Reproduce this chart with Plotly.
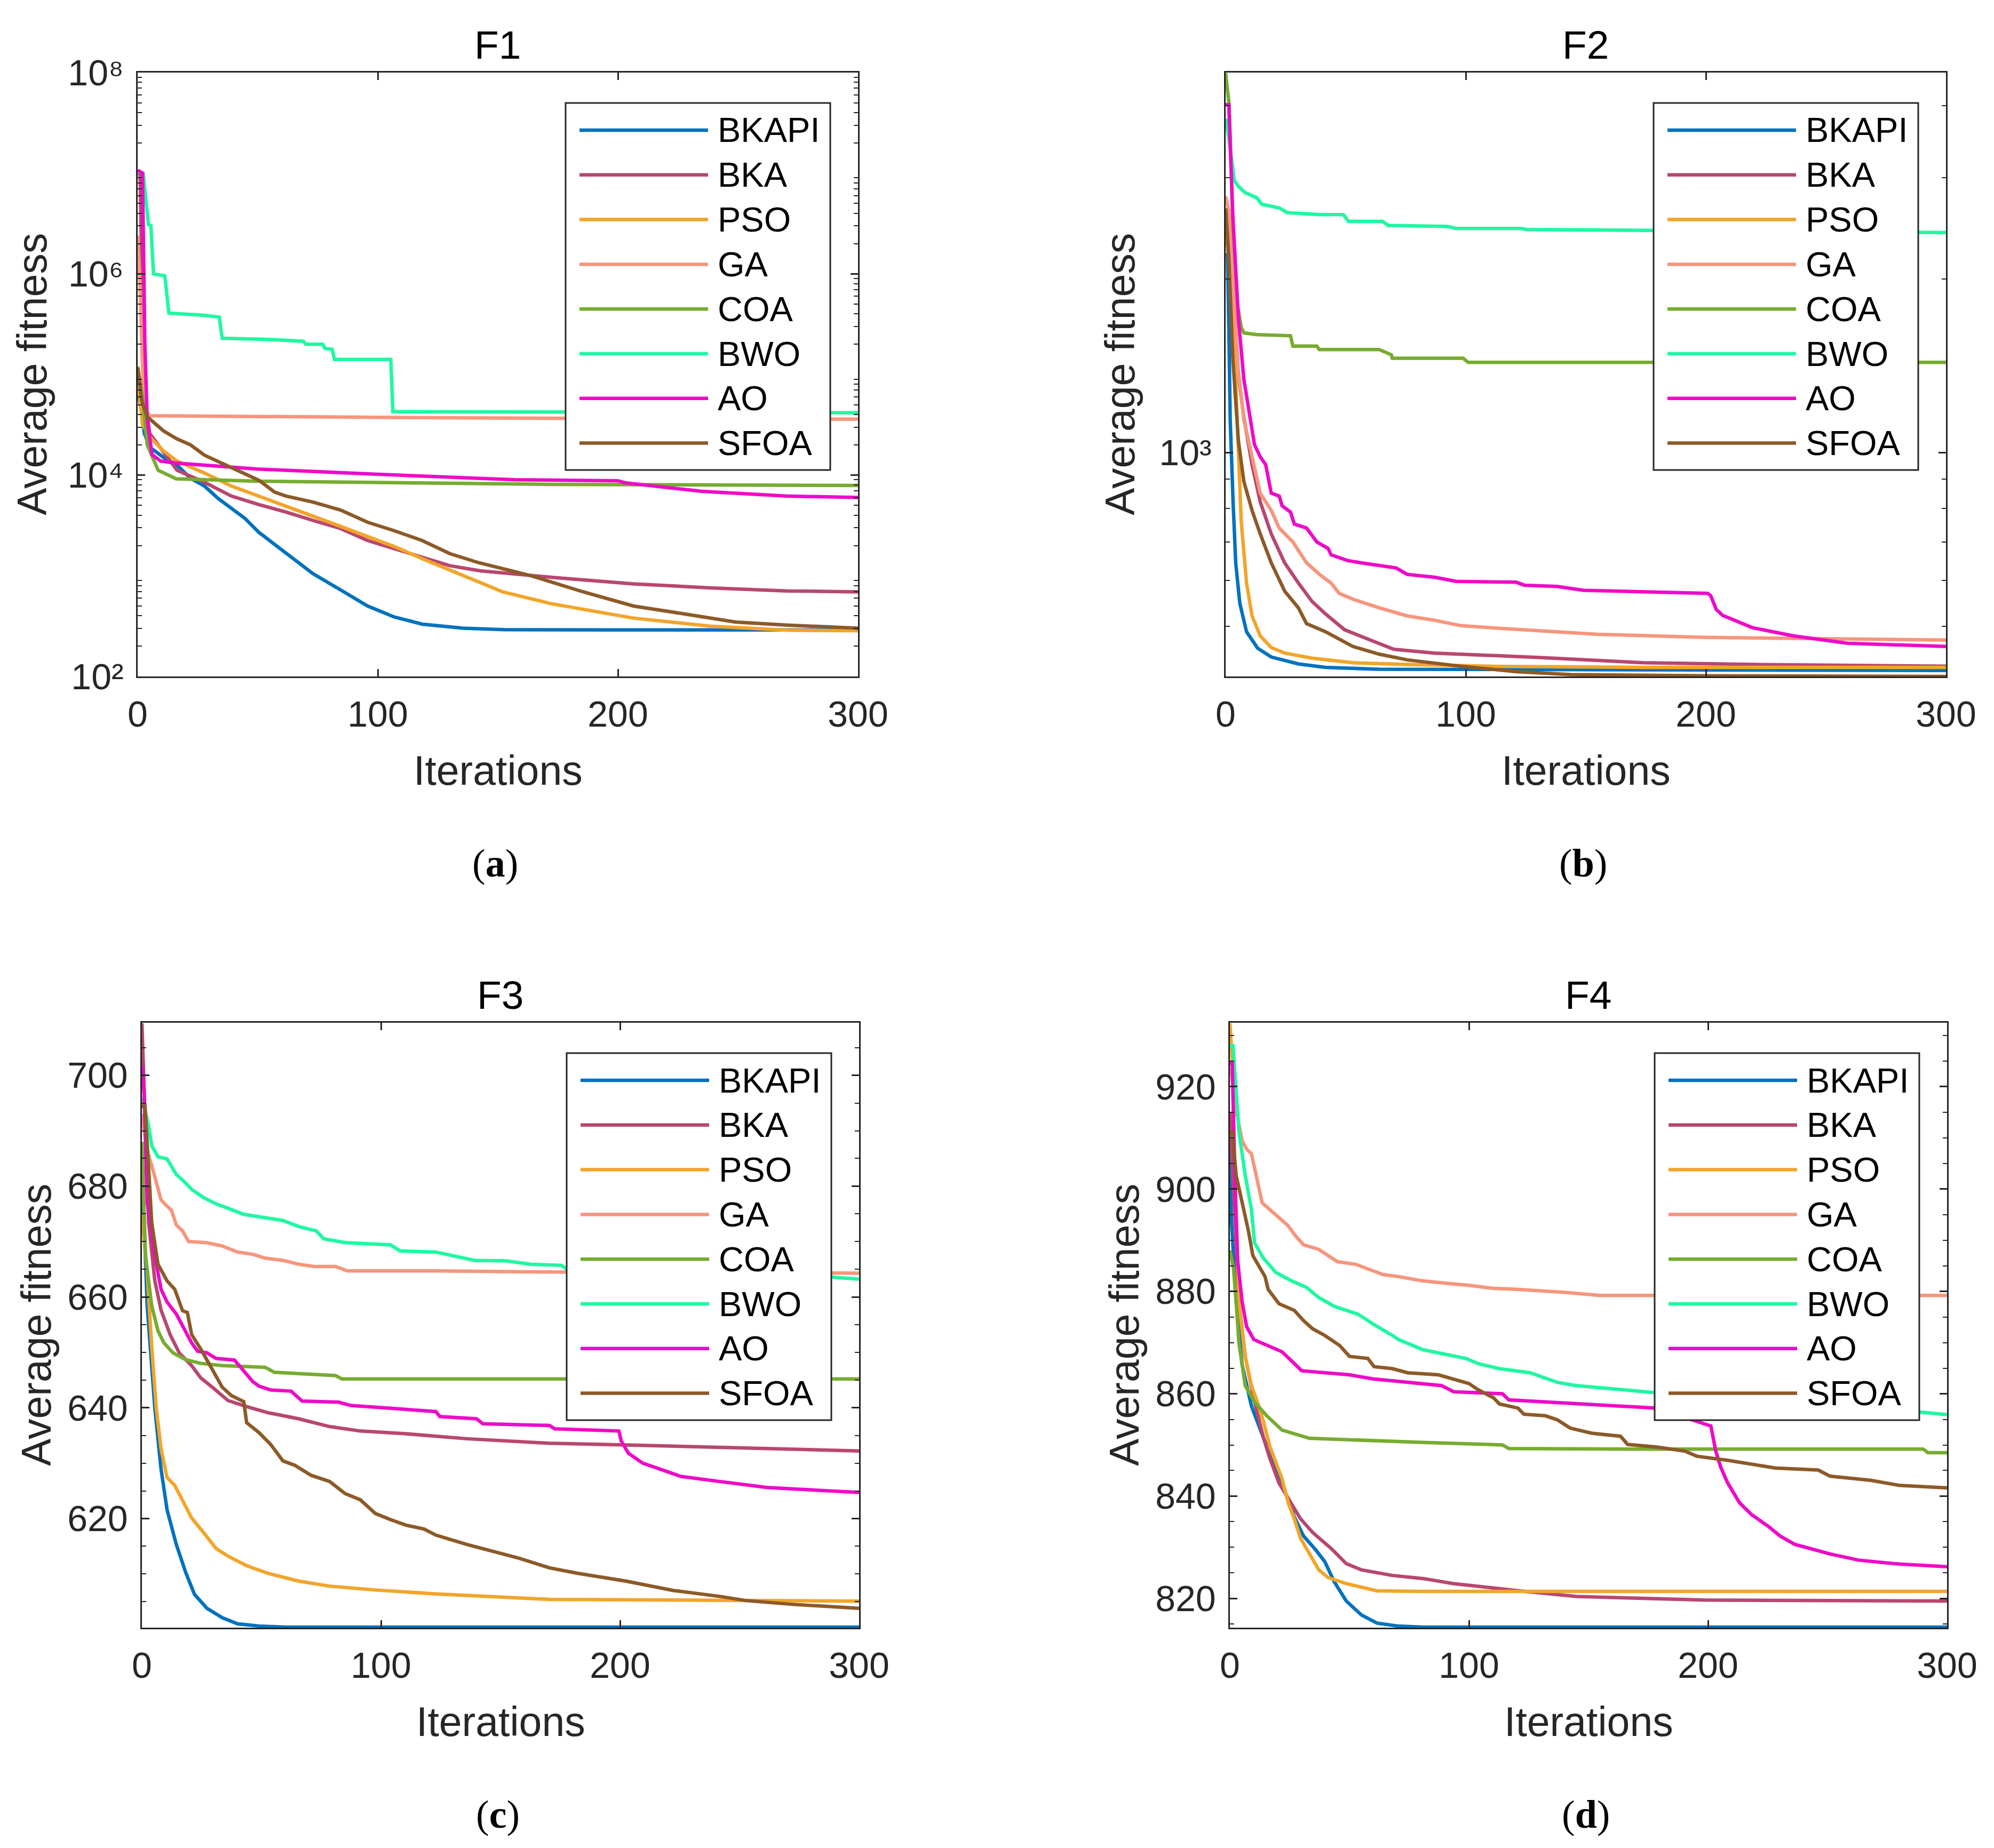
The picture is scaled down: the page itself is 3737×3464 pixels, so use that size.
import plotly.graph_objects as go

W, H = 3737, 3464

names = ["BKAPI", "BKA", "PSO", "GA", "COA", "BWO", "AO", "SFOA"]
colors = ["#0072BD", "#B8476F", "#F2A52A", "#F5967D", "#77AC30", "#1FF8A2", "#EE0AC8", "#8C5A28"]

# ---------------- F1 (log scale) ----------------
F1_BKAPI_x = [0, 1.7, 2.8, 5, 10.8, 16.4, 22, 27.8, 33.4, 39, 44.8, 50.5, 61.8, 73, 84.5, 95.8, 107, 118.5, 135.5, 152.5, 200, 300]
F1_BKAPI_y = [7.1e4, 4.2e4, 2.6e4, 1.9e4, 1.5e4, 1.26e4, 9.3e3, 7.8e3, 5.9e3, 4.7e3, 3.7e3, 2.7e3, 1.66e3, 1.05e3, 724, 501, 389, 331, 302, 292, 290, 290]
F1_BKA_x = [0, 1, 2, 3, 5, 16.4, 27.8, 39, 50.5, 61.8, 73, 84.5, 95.8, 107, 118.5, 130, 142.7, 174.6, 206.5, 238.5, 270.5, 300]
F1_BKA_y = [1.0e7, 1.0e7, 5e5, 6e4, 2.6e4, 1.12e4, 8.5e3, 6.2e3, 5.1e3, 4.3e3, 3.55e3, 2.95e3, 2.24e3, 1.86e3, 1.55e3, 1.26e3, 1.12e3, 955, 832, 759, 708, 692]
F1_PSO_x = [0, 2, 5, 10.8, 16.4, 27.8, 39, 50.5, 61.8, 73, 84.5, 95.8, 107, 118.5, 130, 142, 152, 172, 206.5, 238.5, 270.5, 300]
F1_PSO_y = [1.0e5, 3.2e4, 2.4e4, 1.74e4, 1.38e4, 1.05e4, 7.8e3, 6.2e3, 4.9e3, 3.9e3, 3.1e3, 2.45e3, 1.95e3, 1.48e3, 1.15e3, 871, 692, 530, 380, 316, 288, 285]
F1_GA_x = [0, 1, 2, 3, 5, 50, 100, 200, 300]
F1_GA_y = [2.4e6, 8e5, 1.2e5, 4.5e4, 3.9e4, 3.82e4, 3.75e4, 3.65e4, 3.6e4]
F1_COA_x = [0, 2, 4, 8.5, 16, 50, 171, 300]
F1_COA_y = [1.2e5, 6e4, 2.0e4, 1.12e4, 9.2e3, 8.7e3, 8.1e3, 7.9e3]
F1_BWO_x = [0, 2.3, 4.5, 5.5, 6.6, 11.3, 13, 27, 34, 35.2, 52.7, 69, 70, 77, 78, 81, 82, 105.4, 106.3, 300]
F1_BWO_y = [1.035e7, 1.0e7, 3.09e6, 3.02e6, 1.0e6, 9.55e5, 4.07e5, 3.89e5, 3.72e5, 2.29e5, 2.24e5, 2.14e5, 2.0e5, 2.0e5, 1.82e5, 1.78e5, 1.41e5, 1.41e5, 4.27e4, 4.17e4]
F1_AO_x = [0, 2, 3, 4, 6, 9.6, 16, 50, 100, 142.7, 157, 200, 203, 235, 270, 300]
F1_AO_y = [1.07e7, 1.0e7, 2e5, 3.5e4, 1.6e4, 1.38e4, 1.32e4, 1.15e4, 1.02e4, 9.2e3, 9.0e3, 8.8e3, 8.4e3, 6.9e3, 6.2e3, 6.0e3]
F1_SFOA_x = [0, 1.7, 4, 10.8, 16.4, 22, 27.8, 39, 50.5, 57, 61.8, 73, 84.5, 95.8, 107, 118.5, 130, 142, 164, 185.6, 206.5, 228, 249, 270.5, 300]
F1_SFOA_y = [1.17e5, 5.5e4, 3.8e4, 2.75e4, 2.29e4, 2.0e4, 1.58e4, 1.2e4, 8.9e3, 6.8e3, 6.2e3, 5.4e3, 4.5e3, 3.4e3, 2.8e3, 2.24e3, 1.66e3, 1.35e3, 1.0e3, 692, 501, 417, 347, 324, 302]

# ---------------- F2 (log scale) ----------------
F2_BKAPI_x = [0, 0.8, 1.4, 1.9, 3.1, 4.2, 5.9, 8.7, 13.3, 19, 30.3, 41.6, 64, 300]
F2_BKAPI_y = [2218, 2188, 1578, 1140, 822, 644, 548, 489, 458, 442, 430, 424, 421, 419]
F2_BKA_x = [0, 2, 4, 7.6, 11, 14.4, 19, 24.6, 30.3, 36, 41.6, 49.5, 58.6, 70, 87, 110, 132, 174, 220, 300]
F2_BKA_y = [2500, 2000, 1500, 1150, 953, 822, 723, 644, 594, 552, 525, 493, 476, 456, 449, 445, 441, 432, 429, 426]
F2_PSO_x = [0, 2, 3, 4.8, 6.5, 8.7, 11, 14.4, 19, 24.6, 36, 53, 75.6, 110, 174, 300]
F2_PSO_y = [2500, 2000, 1860, 1140, 759, 594, 521, 481, 459, 449, 440, 432, 429, 426, 424, 424]
F2_GA_x = [0, 1.3, 3, 5.3, 7.6, 10, 12, 14.4, 19, 22.3, 28, 33.7, 39.3, 43.9, 47.3, 53, 64, 75.6, 87, 98, 110, 132, 155, 200, 300]
F2_GA_y = [2786, 2630, 1982, 1384, 1140, 1033, 953, 851, 794, 740, 700, 644, 614, 594, 570, 557, 538, 521, 512, 501, 497, 490, 484, 478, 473]
F2_COA_x = [0, 1.5, 3, 5, 6.5, 7.6, 13, 27, 28, 38, 39, 64, 69, 69.4, 98.9, 101, 300]
F2_COA_y = [4560, 4000, 2500, 1800, 1650, 1614, 1603, 1596, 1531, 1531, 1510, 1510, 1479, 1459, 1459, 1435, 1435]
F2_BWO_x = [0, 1, 2.5, 3.6, 5.3, 8, 13, 15, 22.3, 25.7, 39, 49, 51.2, 65.4, 67.7, 92.6, 96, 123, 125.5, 174, 300]
F2_BWO_y = [3800, 3600, 3230, 2970, 2900, 2830, 2770, 2700, 2660, 2610, 2590, 2590, 2520, 2520, 2480, 2470, 2450, 2450, 2440, 2430, 2410]
F2_AO_x = [0, 1.3, 3, 5.3, 7.6, 9.9, 12, 14.4, 16.7, 19, 22.3, 23.5, 27, 28.6, 33.7, 38, 42.7, 43.9, 50.7, 57.5,
           64, 71, 75.6, 87, 96, 121, 124.4, 138, 149, 200.8, 202, 204.3, 207, 219.4, 236.5, 259, 300]
F2_AO_y = [4018, 4018, 2570, 1710, 1340, 1175, 1033, 984, 953, 851, 841, 809, 789, 752, 740, 700, 682, 665, 650, 643,
           637, 631, 615, 608, 598, 596, 589, 586, 577, 570, 565, 535, 522, 497, 481, 467, 461]
F2_SFOA_x = [0, 1.3, 3, 5.3, 7.6, 11, 14.4, 19, 24.6, 30.3, 33.7, 41.6, 53, 64, 75.6, 98, 121, 143.7, 200, 300]
F2_SFOA_y = [2655, 2188, 1455, 1050, 891, 794, 723, 644, 575, 538, 505, 489, 461, 447, 437, 426, 417, 412, 410, 409]

# ---------------- F3 ----------------
F3_BKAPI_x = [0, 0.9, 2.2, 4.1, 5.4, 8, 10.5, 14.4, 18.2, 22, 27.2, 33.6, 40, 49, 60, 300]
F3_BKAPI_y = [680.2, 673.4, 658.4, 647.3, 639.9, 628.9, 621.6, 615.3, 610.4, 606.3, 603.8, 602.1, 601.0, 600.6, 600.4, 600.4]
F3_BKA_x = [0, 0.9, 2.8, 5.4, 8, 11.8, 15.6, 20.8, 24.6, 29.7, 36, 43.8, 52.8, 65.6, 72, 78.5, 91.3, 110.5, 136, 170, 200, 300]
F3_BKA_y = [709.4, 696.8, 673.4, 662.9, 657.6, 653.2, 649.9, 647.6, 645.4, 643.6, 641.3, 640.2, 639.1, 638.0, 637.3, 636.6, 635.8, 635.3, 634.4, 633.6, 633.3, 632.2]
F3_PSO_x = [0, 2.2, 4.1, 6, 8, 10.5, 13.7, 17, 20.8, 25.9, 31, 36, 43.8, 52.8, 65.6, 78.5, 97.7, 123, 149, 170.5, 300]
F3_PSO_y = [675, 664.4, 651.0, 639.9, 632.6, 627.4, 626.0, 623.1, 620.1, 617.4, 614.6, 613.2, 611.5, 610.1, 608.7, 607.8, 607.1, 606.4, 605.9, 605.4, 605.1]
F3_GA_x = [0, 2.2, 5.4, 8, 10.5, 12.4, 14.4, 17, 19.5, 27, 33.6, 40, 46.4, 51.5, 59, 65.6, 72, 81, 86, 123, 170.5, 300]
F3_GA_y = [693, 686.5, 681.7, 677.5, 676.4, 675.6, 673.0, 671.9, 670.0, 669.8, 669.2, 668.1, 667.7, 667.0, 666.6, 665.9, 665.5, 665.5, 664.7, 664.7, 664.5, 664.3]
F3_COA_x = [0, 1.5, 4.1, 6.7, 9.2, 13, 18.2, 24.6, 33.6, 51.5, 55.4, 81, 83.6, 300]
F3_COA_y = [688, 667.4, 658.4, 653.9, 651.7, 649.9, 648.7, 648.0, 647.6, 647.3, 646.4, 645.8, 645.2, 645.2]
F3_BWO_x = [0, 2.6, 4.1, 6.7, 10.5, 14.4, 18.2, 20.8, 25.9, 31, 36, 42.6, 50, 59, 65.6, 73, 76, 85, 104, 108, 123, 139, 152.5, 162.5, 175.5, 177.5, 288, 300]
F3_BWO_y = [696, 691.3, 687.3, 685.3, 684.9, 682.1, 680.6, 679.4, 677.9, 676.8, 676.0, 674.9, 674.4, 673.8, 672.7, 671.9, 670.5, 669.8, 669.4, 668.3, 668.1, 666.6, 666.5, 665.9, 665.7, 665.1, 663.6, 663.2]
F3_AO_x = [0, 0.9, 2.2, 5.4, 8, 10.5, 14.4, 18.2, 20.8, 23.3, 27.2, 31, 38.7, 41.3, 46.4, 49, 54, 62.4, 67, 82.3,
           87.4, 97.7, 110.5, 123, 124.6, 140, 142.6, 170.5, 172.7, 199.5, 200.5, 203.5, 209.5, 216.5, 225.5, 241.5, 261.5, 300]
F3_AO_y = [701.7, 696.8, 677.1, 667.4, 661.4, 659.1, 656.9, 653.9, 651.7, 650.2, 649.9, 648.9, 648.6, 647.3, 644.7, 643.9, 643.2, 643.0, 641.2, 641.0,
           640.4, 640.1, 639.7, 639.3, 638.4, 638.0, 637.1, 636.8, 636.2, 635.8, 634.0, 631.8, 630.0, 628.9, 627.6, 626.7, 625.6, 624.7]
F3_SFOA_x = [0, 1.3, 4.1, 6.7, 10.5, 13.7, 17, 19, 20.8, 24.6, 29.7, 33.6, 37.4, 42.6, 43.8, 49, 54, 59, 64, 70.8,
             78.5, 85, 91.3, 97.7, 104, 110.5, 118, 123, 136, 149, 158, 170.5, 182.5, 202.5, 222.5, 242.5, 252.5, 272.5, 300]
F3_SFOA_y = [694.4, 694.4, 673.4, 665.9, 662.9, 661.4, 657.5, 657.2, 653.2, 650.6, 646.7, 643.7, 642.2, 641.1, 637.3, 635.5, 633.3, 630.4, 629.6, 627.8,
             626.7, 624.5, 623.4, 620.9, 619.8, 618.8, 618.1, 617.0, 615.3, 613.8, 612.8, 611.1, 610.1, 608.7, 607.0, 605.9, 605.2, 604.5, 603.8]

# ---------------- F4 ----------------
F4_BKAPI_x = [0, 0.6, 2.6, 5.1, 9, 14.1, 19.2, 23, 26.9, 30.8, 35.9, 39.7, 43.6, 48.7, 55, 61.5, 70.5, 80.8, 300]
F4_BKAPI_y = [910.3, 894.4, 878.0, 865.7, 857.6, 851.3, 845.8, 841.0, 836.0, 832.2, 829.5, 827.2, 823.3, 819.5, 816.8, 815.2, 814.6, 814.4, 814.4]
F4_BKA_x = [0, 1, 3.8, 6.4, 10.3, 14.1, 16.7, 20.5, 24.4, 29.5, 34.6, 42.3, 48.7, 55, 68, 80.8, 93.6, 106.4, 119, 132, 144.9, 166.4, 198.7, 300]
F4_BKA_y = [915, 905, 878.0, 867.3, 858.4, 851.3, 847.4, 842.6, 839.5, 835.6, 832.9, 829.8, 826.8, 825.6, 824.5, 823.9, 822.9, 822.2, 821.6, 821.0, 820.4, 820.1, 819.7, 819.5]
F4_PSO_x = [0, 1, 2, 3.8, 6.4, 9, 11.5, 14.1, 16.7, 19.2, 21.8, 24.4, 26.9, 29.5, 33.3, 37.2, 41, 48.7, 61.5, 80.8, 300]
F4_PSO_y = [932.4, 925, 905, 878.0, 867.3, 861.6, 858.4, 854.5, 849.7, 846.6, 843.4, 838.7, 835.6, 831.8, 828.7, 825.6, 824.1, 822.9, 821.5, 821.4, 821.4]
F4_GA_x = [0, 2.6, 5.1, 7, 9, 11, 13.5, 16.7, 20.5, 24.4, 27, 30.8, 37.2, 41, 45, 52.6, 57, 64, 70.5, 80, 90, 100, 110, 120, 140, 155, 300]
F4_GA_y = [925, 915.4, 909.5, 907.8, 906.9, 902.7, 897.3, 896.0, 894.4, 892.8, 891.1, 889.1, 888.2, 887.0, 885.8, 885.3, 884.5, 883.3, 882.9, 882.1, 881.6, 881.2, 880.6, 880.4, 879.8, 879.2, 879.2]
F4_COA_x = [0, 1.5, 2.6, 3.8, 6.4, 10.3, 15.4, 21.8, 33.3, 55, 80.8, 114, 116.7, 166.4, 290, 292, 300]
F4_COA_y = [888, 884.5, 878.0, 869.8, 861.6, 858.4, 855.7, 852.9, 851.3, 850.9, 850.5, 850.0, 849.3, 849.2, 849.2, 848.5, 848.5]
F4_BWO_x = [0, 1.3, 3.8, 6.4, 9, 10.3, 14, 19.2, 25.6, 32, 37.2, 43.6, 53.8, 60.3, 68, 70.5, 80.8, 88.5, 98.7, 103.8, 112.8, 125.6, 137.2, 144.9, 166.4, 178.3, 289, 300]
F4_BWO_y = [928, 928, 911.1, 902.7, 896.0, 889.5, 886.5, 883.7, 882.1, 880.8, 878.8, 877.1, 875.5, 873.5, 871.4, 870.6, 868.6, 867.8, 866.9, 865.9, 864.9, 864.1, 862.2, 861.6, 860.6, 860.2, 856.4, 855.9]
F4_AO_x = [0, 1, 2, 3.2, 5.1, 7, 10, 14, 18.6, 21.8, 25.6, 30, 40, 50, 60, 70, 80, 88.5, 93.6, 114,
           116.7, 132, 157.7, 178.3, 201.2, 203.2, 205.2, 208.2, 213.2, 218.2, 225.2, 230.2, 236.2, 243.1, 251.1, 263, 278, 300]
F4_AO_y = [924.6, 924.6, 902.7, 886.2, 878.0, 873.1, 870.6, 869.8, 869.0, 868.2, 866.5, 864.5, 864.1, 863.7, 862.9, 862.4, 862.0, 861.6, 860.4, 860.0,
           858.8, 858.4, 857.6, 857.2, 853.7, 848.9, 845.8, 842.6, 838.7, 836.4, 834.1, 832.2, 830.6, 829.8, 828.7, 827.5, 826.8, 826.2]
F4_SFOA_x = [0, 1, 2.6, 5.1, 7.7, 9.6, 12.8, 14.7, 16, 20.5, 26.9, 30.8, 34.6, 39.7, 46, 50, 57.7, 60.3, 68, 74.4,
             87.2, 93.6, 100, 103.8, 110.3, 112.8, 120.5, 123, 132, 137, 142.3, 151.3, 163.4, 166.4, 178.3, 190.3, 195.3, 208.2, 218.2, 228.1,
             246.1, 251.1, 268, 280, 300]
F4_SFOA_y = [911.1, 911.1, 902.7, 897.7, 891.9, 887.0, 884.5, 882.9, 880.4, 877.6, 876.3, 874.3, 872.7, 871.4, 869.4, 867.3, 866.9, 865.3, 864.9, 864.1,
             863.7, 862.9, 862.0, 860.8, 859.2, 858.0, 857.2, 856.0, 855.7, 854.9, 853.3, 852.3, 851.7, 850.1, 849.6, 848.8, 847.8, 847.0, 846.2, 845.5,
             845.1, 843.9, 843.1, 842.1, 841.6]

panel_titles = ["F1", "F2", "F3", "F4"]
panel_letters = ["a", "b", "c", "d"]
x_tick_vals = [0, 100, 200, 300]

F1_ticks = [1e2, 1e4, 1e6, 1e8]
F1_ticktext = ["10\u00b2", "10\u2074", "10\u2076", "10\u2078"]
F2_ticks = [1000]
F2_ticktext = ["10\u00b3"]
F2_minor = [500, 600, 700, 800, 900, 2000, 3000, 4000]
F3_ticks = [620, 640, 660, 680, 700]
F4_ticks = [820, 840, 860, 880, 900, 920]

data = {
    1: [(F1_BKAPI_x, F1_BKAPI_y), (F1_BKA_x, F1_BKA_y), (F1_PSO_x, F1_PSO_y), (F1_GA_x, F1_GA_y),
        (F1_COA_x, F1_COA_y), (F1_BWO_x, F1_BWO_y), (F1_AO_x, F1_AO_y), (F1_SFOA_x, F1_SFOA_y)],
    2: [(F2_BKAPI_x, F2_BKAPI_y), (F2_BKA_x, F2_BKA_y), (F2_PSO_x, F2_PSO_y), (F2_GA_x, F2_GA_y),
        (F2_COA_x, F2_COA_y), (F2_BWO_x, F2_BWO_y), (F2_AO_x, F2_AO_y), (F2_SFOA_x, F2_SFOA_y)],
    3: [(F3_BKAPI_x, F3_BKAPI_y), (F3_BKA_x, F3_BKA_y), (F3_PSO_x, F3_PSO_y), (F3_GA_x, F3_GA_y),
        (F3_COA_x, F3_COA_y), (F3_BWO_x, F3_BWO_y), (F3_AO_x, F3_AO_y), (F3_SFOA_x, F3_SFOA_y)],
    4: [(F4_BKAPI_x, F4_BKAPI_y), (F4_BKA_x, F4_BKA_y), (F4_PSO_x, F4_PSO_y), (F4_GA_x, F4_GA_y),
        (F4_COA_x, F4_COA_y), (F4_BWO_x, F4_BWO_y), (F4_AO_x, F4_AO_y), (F4_SFOA_x, F4_SFOA_y)],
}

# plot-area boxes in page pixels: (left, right, top, bottom)
boxes = {1: (258, 1608, 136, 1268), 2: (2297, 3647, 136, 1268),
         3: (266, 1610, 1917, 3051), 4: (2305, 3649, 1917, 3051)}

OFF = 8  # page body margin offset

def px(x):
    return (x - OFF) / W

def py(y):
    return 1 - (y - OFF) / H

SANS = "Liberation Sans, Arial, Helvetica, sans-serif"
AX = "#262626"
LW = 6.5

fig = go.Figure()
for k in range(1, 5):
    xa = "x" if k == 1 else f"x{k}"
    ya = "y" if k == 1 else f"y{k}"
    for i, (xs, ys) in enumerate(data[k]):
        fig.add_trace(go.Scatter(x=xs, y=ys, mode="lines", name=names[i], showlegend=False,
                                 line=dict(color=colors[i], width=LW), xaxis=xa, yaxis=ya))

layout = dict(width=W, height=H, margin=dict(l=0, r=0, t=0, b=0, pad=0, autoexpand=False),
              paper_bgcolor="white", plot_bgcolor="white", showlegend=False, template="none")

common = dict(showline=True, linecolor=AX, linewidth=2.5, mirror="allticks", ticks="inside",
              ticklen=14, tickwidth=2.5, tickcolor=AX, showgrid=False, zeroline=False, automargin=False,
              tickfont=dict(family=SANS, size=68, color=AX))
minor_style = dict(ticks="inside", ticklen=8, tickwidth=2, tickcolor=AX, showgrid=False)

F1_minor = [m * 10 ** d for d in range(2, 8) for m in range(2, 10)]
F3_minor = [v for v in range(600, 710, 5) if v % 20 != 0]
F4_minor = [v for v in range(815, 935, 5) if v % 20 != 0]

yspecs = {
    1: dict(type="log", range=[2, 8], tickvals=F1_ticks, ticktext=F1_ticktext,
            minor=dict(tickvals=F1_minor, **minor_style)),
    2: dict(type="log", range=[2.6117, 3.6598], tickvals=F2_ticks, ticktext=F2_ticktext,
            minor=dict(tickvals=F2_minor, **minor_style)),
    3: dict(range=[600.3, 709.5], tickvals=F3_ticks, minor=dict(tickvals=F3_minor, **minor_style)),
    4: dict(range=[814.3, 932.5], tickvals=F4_ticks, minor=dict(tickvals=F4_minor, **minor_style)),
}

for k in range(1, 5):
    l, r, t, b = boxes[k]
    xkey = "xaxis" if k == 1 else f"xaxis{k}"
    ykey = "yaxis" if k == 1 else f"yaxis{k}"
    yname = "y" if k == 1 else f"y{k}"
    xname = "x" if k == 1 else f"x{k}"
    layout[xkey] = dict(domain=[px(l), px(r)], anchor=yname, range=[0, 300], tickvals=x_tick_vals,
                        ticklabelstandoff=10, **common)
    layout[ykey] = dict(domain=[py(b), py(t)], anchor=xname, ticklabelstandoff=10, **yspecs[k], **common)

annotations = []
shapes = []
for k in range(1, 5):
    l, r, t, b = boxes[k]
    cx = (l + r) / 2
    cy = (t + b) / 2
    # panel title
    annotations.append(dict(x=px(cx), y=py(t - 8), xref="paper", yref="paper", text=panel_titles[k - 1],
                            showarrow=False, xanchor="center", yanchor="bottom",
                            font=dict(family=SANS, size=75, color="black")))
    # x axis title
    annotations.append(dict(x=px(cx), y=py(b + 176), xref="paper", yref="paper", text="Iterations",
                            showarrow=False, xanchor="center", yanchor="middle",
                            font=dict(family=SANS, size=77, color=AX)))
    # y axis title
    annotations.append(dict(x=px(l - 198), y=py(cy), xref="paper", yref="paper", text="Average fitness",
                            showarrow=False, xanchor="center", yanchor="middle", textangle=-90,
                            font=dict(family=SANS, size=77, color=AX)))
    # sub-figure letter
    annotations.append(dict(x=px(cx - 5), y=py(b + 350), xref="paper", yref="paper",
                            text="(<b>" + panel_letters[k - 1] + "</b>)",
                            showarrow=False, xanchor="center", yanchor="middle",
                            font=dict(family="Liberation Serif, Times New Roman, serif", size=74, color="black")))
    # legend box
    bl = r - 52 - 496
    bt = t + 57
    shapes.append(dict(type="rect", xref="paper", yref="paper", x0=px(bl), x1=px(bl + 496),
                       y0=py(bt + 688), y1=py(bt), fillcolor="white",
                       line=dict(color=AX, width=3), layer="above"))
    for i, nm in enumerate(names):
        ry = bt + 51 + i * 83.8
        shapes.append(dict(type="line", xref="paper", yref="paper", x0=px(bl + 26), x1=px(bl + 267),
                           y0=py(ry), y1=py(ry), line=dict(color=colors[i], width=LW), layer="above"))
        annotations.append(dict(x=px(bl + 283), y=py(ry), xref="paper", yref="paper", text=nm,
                                showarrow=False, xanchor="left", yanchor="middle",
                                font=dict(family=SANS, size=65, color="black")))

layout["annotations"] = annotations
layout["shapes"] = shapes
fig.update_layout(**layout)
fig.write_html("out.html")
